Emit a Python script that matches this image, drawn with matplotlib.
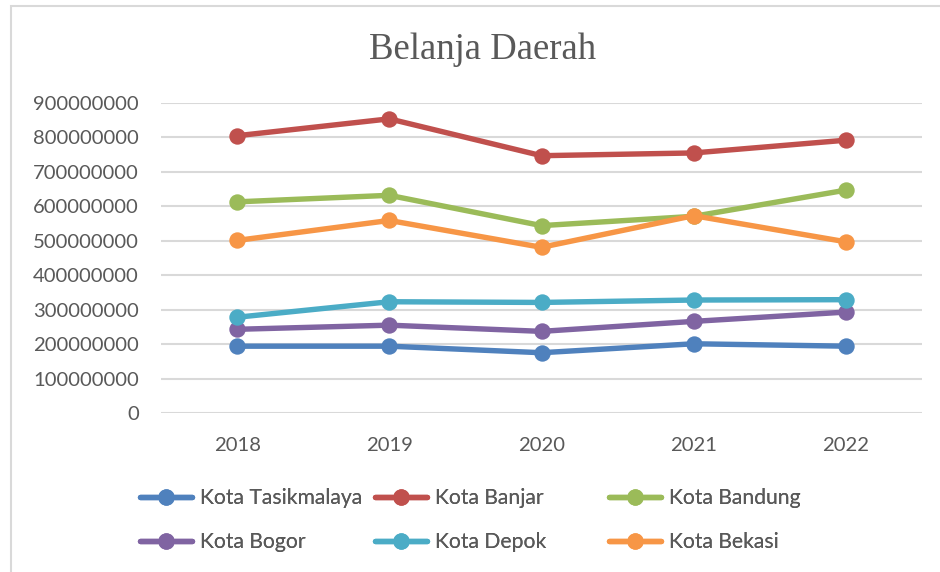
import matplotlib
matplotlib.use("Agg")
import matplotlib.pyplot as plt
from matplotlib.patches import Rectangle

years = ["2018", "2019", "2020", "2021", "2022"]
series_names = ["Kota Tasikmalaya", "Kota Banjar", "Kota Bandung",
                "Kota Bogor", "Kota Depok", "Kota Bekasi"]
tasikmalaya = [194e6, 194e6, 175e6, 201e6, 194e6]
banjar = [805e6, 854e6, 747e6, 755e6, 792e6]
bandung = [613e6, 632e6, 544e6, 571e6, 647e6]
bogor = [243e6, 255e6, 237e6, 266e6, 293e6]
depok = [278e6, 323e6, 321e6, 328e6, 329e6]
bekasi = [501e6, 559e6, 481e6, 573e6, 497e6]
yticks = [0, 100e6, 200e6, 300e6, 400e6, 500e6, 600e6, 700e6, 800e6, 900e6]

colors = ["#4F81BD", "#C0504D", "#9BBB59", "#8064A2", "#4BACC6", "#F79646"]
values = [tasikmalaya, banjar, bandung, bogor, depok, bekasi]

W, H = 940, 572
fig = plt.figure(figsize=(W / 100, H / 100), dpi=100)
fig.patch.set_facecolor("white")

# chart-area border (only left/top visible in the cropped reference)
fig.patches.append(Rectangle((11 / W, -0.2), 2.0, 1 - 6 / H + 0.2,
                             transform=fig.transFigure, fill=False,
                             edgecolor="#d9d9d9", linewidth=1.5, zorder=0))

ax = fig.add_axes([161 / W, 1 - 413 / H, (922 - 161) / W, (413 - 103) / H])
x = list(range(len(years)))
handles = []
for name, vals, c in zip(series_names, values, colors):
    h, = ax.plot(x, vals, color=c, linewidth=3.9, marker="o", markersize=11.8,
                 markeredgewidth=0, label=name, solid_joinstyle="round",
                 solid_capstyle="round", clip_on=False)
    handles.append(h)

ax.set_xlim(-0.5, len(years) - 0.5)
ax.set_ylim(0, 900e6)
ax.set_xticks(x)
ax.set_xticklabels(years)
ax.set_yticks(yticks)
ax.set_yticklabels([str(int(v)) for v in yticks])
for s in ax.spines.values():
    s.set_visible(False)
ax.grid(axis="y", color="#d9d9d9", linewidth=1.5)
ax.set_axisbelow(True)
ax.tick_params(axis="both", length=0, labelcolor="#595959", labelsize=14.6)
ax.tick_params(axis="y", pad=16)
ax.tick_params(axis="x", pad=17)
for lab in ax.get_xticklabels() + ax.get_yticklabels():
    lab.set_fontfamily("Lato")

fig.text(483 / W, 1 - 50 / H, "Belanja Daerah", ha="center", va="center",
         fontsize=26.5, color="#595959", fontfamily="Liberation Serif")

# legend: three columns, row-major order like Excel
col_x = [140, 375, 609]
for ci in range(3):
    hs = [handles[ci], handles[ci + 3]]
    leg = fig.legend(handles=hs, labels=[h.get_label() for h in hs],
                     loc="upper left", bbox_to_anchor=(col_x[ci] / W, 1 - 488 / H),
                     frameon=False, handlelength=2.45, handletextpad=0.38,
                     labelspacing=1.16, borderaxespad=0, borderpad=0,
                     prop={"family": "Lato", "size": 15.2})
    for t in leg.get_texts():
        t.set_color("#595959")
    fig.add_artist(leg)

fig.savefig("out.png", dpi=100, facecolor="white")
